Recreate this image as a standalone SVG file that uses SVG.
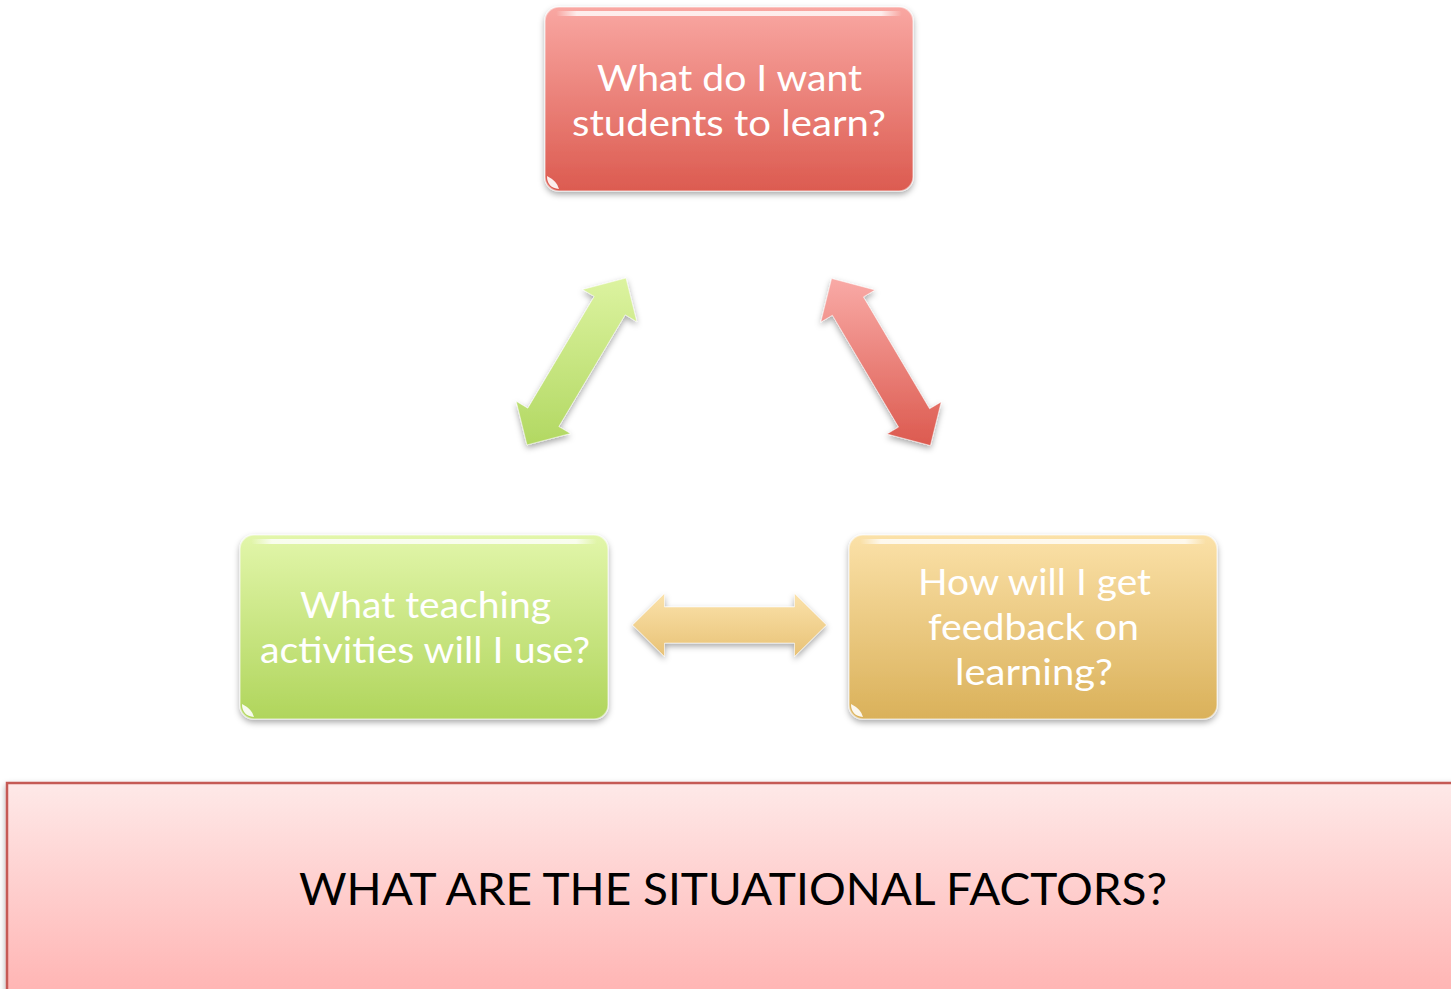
<svg xmlns="http://www.w3.org/2000/svg" width="1451" height="989" viewBox="0 0 1451 989">
<defs>
<linearGradient id="gRed" x1="0" y1="0" x2="0" y2="1"><stop offset="0" stop-color="#f9a7a2"/><stop offset="1" stop-color="#dc5b50"/></linearGradient>
<linearGradient id="gGreen" x1="0" y1="0" x2="0" y2="1"><stop offset="0" stop-color="#e2f6aa"/><stop offset="1" stop-color="#b0d55c"/></linearGradient>
<linearGradient id="gOrange" x1="0" y1="0" x2="0" y2="1"><stop offset="0" stop-color="#fbe1a8"/><stop offset="1" stop-color="#dab15a"/></linearGradient>
<linearGradient id="gArrGreen" x1="0" y1="0" x2="0" y2="1"><stop offset="0" stop-color="#dcf3a0"/><stop offset="1" stop-color="#b2d862"/></linearGradient>
<linearGradient id="gArrRed" x1="0" y1="0" x2="0" y2="1"><stop offset="0" stop-color="#f9aaa6"/><stop offset="1" stop-color="#dc5a4f"/></linearGradient>
<linearGradient id="gArrOrange" x1="0" y1="0" x2="0" y2="1"><stop offset="0" stop-color="#fbe2ab"/><stop offset="1" stop-color="#e8c276"/></linearGradient>
<linearGradient id="gBottom" x1="0" y1="0" x2="0" y2="1"><stop offset="0" stop-color="#fee9e8"/><stop offset="1" stop-color="#ffb2b1"/></linearGradient>
<linearGradient id="gShine" x1="0" y1="0" x2="1" y2="0"><stop offset="0" stop-color="#fff" stop-opacity="0"/><stop offset="0.06" stop-color="#fff" stop-opacity="0.8"/><stop offset="0.94" stop-color="#fff" stop-opacity="0.8"/><stop offset="1" stop-color="#fff" stop-opacity="0"/></linearGradient>
<filter id="shadow" x="-10%" y="-10%" width="120%" height="130%"><feDropShadow dx="0" dy="3" stdDeviation="3" flood-color="#000" flood-opacity="0.35"/></filter>
</defs>
<style>
.box{stroke:#ffffff;stroke-opacity:0.45;stroke-width:1.5;filter:url(#shadow)}
.shine{fill:url(#gShine)}
.lbl{font-family:Lato,"Open Sans","Liberation Sans",sans-serif;font-size:37px;fill:#ffffff;text-anchor:middle}
.arr{stroke:#ffffff;stroke-opacity:0.5;stroke-width:1;filter:url(#shadow)}
.spot{fill:#ffffff;opacity:0.9}
</style>

<g id="bottom-panel">
<rect x="7" y="783" width="1460" height="220" fill="url(#gBottom)" stroke="#c55a54" stroke-width="2.5" filter="url(#shadow)"/>
<text x="733" y="905" font-family="Lato,'Open Sans','Liberation Sans',sans-serif" font-size="45" fill="#000" text-anchor="middle" textLength="868" lengthAdjust="spacingAndGlyphs">WHAT ARE THE SITUATIONAL FACTORS?</text>
</g>

<g id="connectors">
<path id="arrow-green" class="arr" fill="url(#gArrGreen)" d="M527.0,444.9 L516.2,401.3 L527.8,408.2 L594.2,296.4 L582.6,289.5 L626.0,278.1 L636.8,321.7 L625.2,314.8 L558.8,426.6 L570.4,433.5 Z"/>
<path id="arrow-red" class="arr" fill="url(#gArrRed)" d="M831.6,278.5 L875.0,290.0 L863.4,296.9 L929.6,408.8 L941.2,401.9 L930.4,445.5 L887.0,434.0 L898.6,427.1 L832.4,315.2 L820.8,322.1 Z"/>
<path id="arrow-orange" class="arr" fill="url(#gArrOrange)" d="M632.5,625 L664.5,593.5 L664.5,607 L794.5,607 L794.5,593.5 L826.5,625 L794.5,656.5 L794.5,643 L664.5,643 L664.5,656.5 Z"/>
</g>

<g id="node-learn">
<rect class="box" x="545" y="7" width="368" height="184" rx="14" fill="url(#gRed)"/>
<rect class="shine" x="556" y="11" width="346" height="5" rx="2.5"/>
<path class="spot" d="M547,176 Q547,188 559,189 Q557,181 547,176 Z"/>
<text class="lbl" x="729.5" y="91" textLength="265" lengthAdjust="spacingAndGlyphs">What do I want</text>
<text class="lbl" x="729" y="136" textLength="314" lengthAdjust="spacingAndGlyphs">students to learn?</text>
</g>

<g id="node-activities">
<rect class="box" x="240" y="535" width="368" height="184" rx="14" fill="url(#gGreen)"/>
<rect class="shine" x="251" y="539" width="346" height="5" rx="2.5"/>
<path class="spot" d="M242,704 Q242,716 254,717 Q252,709 242,704 Z"/>
<text class="lbl" x="425.5" y="618" textLength="251" lengthAdjust="spacingAndGlyphs">What teaching</text>
<text class="lbl" x="425" y="663" textLength="330" lengthAdjust="spacingAndGlyphs">activities will I use?</text>
</g>

<g id="node-feedback">
<rect class="box" x="849" y="535" width="368" height="184" rx="14" fill="url(#gOrange)"/>
<rect class="shine" x="860" y="539" width="346" height="5" rx="2.5"/>
<path class="spot" d="M851,704 Q851,716 863,717 Q861,709 851,704 Z"/>
<text class="lbl" x="1034.5" y="595" textLength="233" lengthAdjust="spacingAndGlyphs">How will I get</text>
<text class="lbl" x="1033.5" y="640" textLength="211" lengthAdjust="spacingAndGlyphs">feedback on</text>
<text class="lbl" x="1034" y="685" textLength="158" lengthAdjust="spacingAndGlyphs">learning?</text>
</g>
</svg>
